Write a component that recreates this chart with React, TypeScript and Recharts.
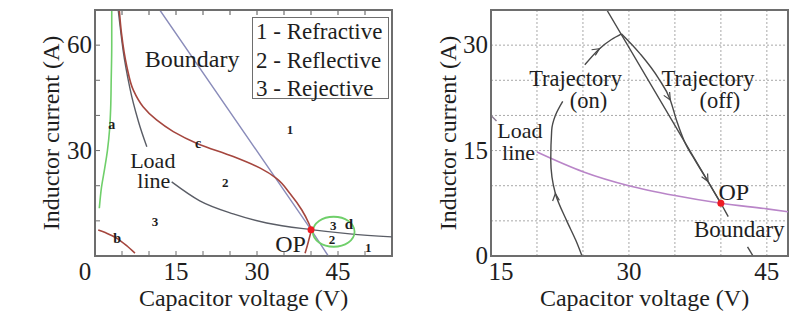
import React from "react";
import { CartesianGrid, Line, LineChart, ReferenceArea, ReferenceDot, XAxis, YAxis } from "recharts";

type Pt = { v: number; i: number };

// ---- left panel: operating regions (V 0..55, A 0..70) ----
const leftBoundary: Pt[] = [
  { v: 12, i: 70 },
  { v: 40, i: 7.5 },
  { v: 43.2, i: 0 },
];
const leftLoadUpper: Pt[] = [
  { v: 4.3, i: 70 },
  { v: 5.2, i: 58.6 },
  { v: 6.5, i: 47.5 },
  { v: 8.0, i: 38.5 },
  { v: 9.6, i: 31.1 },
];
const leftLoadLower: Pt[] = [
  { v: 14.2, i: 21.1 },
  { v: 19.4, i: 15.7 },
  { v: 25.6, i: 12.0 },
  { v: 31.8, i: 9.4 },
  { v: 40, i: 7.5 },
  { v: 47.2, i: 6.3 },
  { v: 55, i: 5.45 },
];
const curveC: Pt[] = [
  { v: 4.5, i: 70 },
  { v: 4.9, i: 63.4 },
  { v: 5.9, i: 53.9 },
  { v: 7.1, i: 47.2 },
  { v: 8.9, i: 42.5 },
  { v: 11.4, i: 38.7 },
  { v: 14.5, i: 35.4 },
  { v: 19.1, i: 31.9 },
  { v: 25.6, i: 28.3 },
  { v: 30.6, i: 25.0 },
  { v: 33.6, i: 22.1 },
  { v: 36.1, i: 17.8 },
  { v: 38.3, i: 13.1 },
  { v: 39.5, i: 9.6 },
  { v: 40, i: 7.5 },
  { v: 39.6, i: 4.6 },
  { v: 38.9, i: 0.8 },
];
const curveA: Pt[] = [
  { v: 0.8, i: 13.6 },
  { v: 1.2, i: 19.5 },
  { v: 1.8, i: 25 },
  { v: 2.3, i: 30 },
  { v: 2.7, i: 36 },
  { v: 2.9, i: 42 },
  { v: 3.0, i: 50 },
  { v: 3.1, i: 60 },
  { v: 3.1, i: 70 },
];
const curveB: Pt[] = [
  { v: 0.6, i: 7.4 },
  { v: 2.0, i: 6.6 },
  { v: 4.0, i: 5.1 },
  { v: 5.8, i: 3.0 },
  { v: 7.4, i: 0.8 },
];
const loopD: Pt[] = [
  { v: 48.5, i: 6.9 },
  { v: 47.2, i: 10.3 },
  { v: 44.2, i: 11.6 },
  { v: 41.2, i: 10.3 },
  { v: 39.9, i: 6.9 },
  { v: 41.2, i: 3.5 },
  { v: 44.2, i: 2.2 },
  { v: 47.2, i: 3.5 },
];
const regionLegend = ["1 - Refractive", "2 - Reflective", "3 - Rejective"];

// ---- right panel: trajectories (V 15..47.3, A 0..35) ----
const rightLoadStub: Pt[] = [
  { v: 15, i: 20 },
  { v: 15.6, i: 19.2 },
];
const rightLoad: Pt[] = [
  { v: 20, i: 14.8 },
  { v: 25, i: 12 },
  { v: 30, i: 10 },
  { v: 35, i: 8.6 },
  { v: 40, i: 7.5 },
  { v: 45, i: 6.7 },
  { v: 47.3, i: 6.3 },
];
const rightBoundary: Pt[] = [
  { v: 27.6, i: 35 },
  { v: 40, i: 7.5 },
  { v: 40.8, i: 5.6 },
];
const rightBoundaryTail: Pt[] = [
  { v: 42.9, i: 1.3 },
  { v: 43.5, i: 0 },
];
const trajOnLower: Pt[] = [
  { v: 24.9, i: 0 },
  { v: 24.2, i: 2.3 },
  { v: 23.2, i: 5.1 },
  { v: 22.0, i: 8.9 },
  { v: 21.5, i: 13.7 },
  { v: 21.6, i: 17.9 },
  { v: 22.0, i: 20.0 },
  { v: 22.8, i: 22.0 },
];
const trajOnUpper: Pt[] = [
  { v: 25.2, i: 27.2 },
  { v: 26.8, i: 29.5 },
  { v: 28.1, i: 30.8 },
  { v: 29.2, i: 31.6 },
];
const trajOff: Pt[] = [
  { v: 29.2, i: 31.6 },
  { v: 31.2, i: 28.8 },
  { v: 33.2, i: 25.3 },
  { v: 34.5, i: 22.2 },
  { v: 35.2, i: 19.2 },
  { v: 36.0, i: 16.4 },
  { v: 37.2, i: 13.6 },
  { v: 38.6, i: 10.6 },
  { v: 40, i: 7.5 },
];

const LEFT_X_TICKS = [0, 5, 10, 15, 20, 25, 30, 35, 40, 45, 50, 55];
const LEFT_X_LABELS = [0, 15, 30, 45];
const LEFT_Y_TICKS = [0, 10, 20, 30, 40, 50, 60, 70];
const LEFT_Y_LABELS = [30, 60];
const RIGHT_X_TICKS = [15, 20, 25, 30, 35, 40, 45];
const RIGHT_X_LABELS = [15, 30, 45];
const RIGHT_Y_TICKS = [0, 5, 10, 15, 20, 25, 30, 35];
const RIGHT_Y_LABELS = [0, 15, 30];

const SERIF = "Liberation Serif, DejaVu Serif, Times New Roman, serif";
const INK = "#1e1e1e";
const FRAME = "#6e6e6e";
const BOUNDARY_BLUE = "#8a8cba";
const LOAD_GRAY = "#5a5d66";
const RED_CURVE = "#a5463e";
const GREEN = "#6fcf6a";
const PURPLE = "#b985c8";
const DARK = "#4a4a4a";
const OP_RED = "#ee1c24";

// inward tick marks, text outside; x/y arrive on the axis line (tickSize 0)
function makeTick(side: string, labels: number[], inward: boolean, shift: Record<number, number> = {}) {
  return function Tick(p: any) {
    const { x, y, payload } = p;
    const v = payload.value;
    const L = 5;
    let mark = null;
    if (inward) {
      if (side === "bottom") mark = <line x1={x} y1={y} x2={x} y2={y - L} stroke={FRAME} />;
      if (side === "left") mark = <line x1={x} y1={y} x2={x + L} y2={y} stroke={FRAME} />;
      if (side === "right") mark = <line x1={x} y1={y} x2={x - L} y2={y} stroke={FRAME} />;
    }
    let text = null;
    if (labels.includes(v)) {
      const dx = shift[v] || 0;
      if (side === "bottom")
        text = (
          <text x={x + dx} y={y + 24} textAnchor="middle" fontSize={25} fontFamily={SERIF} fill={INK}>
            {v}
          </text>
        );
      if (side === "left")
        text = (
          <text x={x - 3 + dx} y={y + 8} textAnchor="end" fontSize={25} fontFamily={SERIF} fill={INK}>
            {v}
          </text>
        );
    }
    return (
      <g>
        {mark}
        {text}
      </g>
    );
  };
}

function note(key: string, v: number, i: number, text: string, size = 23, bold = false) {
  return (
    <ReferenceDot
      key={key}
      x={v}
      y={i}
      r={0}
      ifOverflow="visible"
      shape={(p: any) => (
        <text
          x={p.cx}
          y={p.cy}
          textAnchor="middle"
          fontSize={size}
          fontWeight={bold ? "bold" : "normal"}
          fontFamily={SERIF}
          fill={INK}
        >
          {text}
        </text>
      )}
    />
  );
}

// tick mark hanging down from the top frame, placed through the axis scale
function topTick(key: string, v: number, top: number) {
  return (
    <ReferenceDot
      key={key}
      x={v}
      y={top}
      r={0}
      ifOverflow="visible"
      shape={(p: any) => <line x1={p.cx} y1={p.cy} x2={p.cx} y2={p.cy + 5} stroke={FRAME} strokeWidth={1.2} />}
    />
  );
}

function arrow(key: string, v: number, i: number, deg: number) {
  return (
    <ReferenceDot
      key={key}
      x={v}
      y={i}
      r={0}
      ifOverflow="visible"
      shape={(p: any) => {
        const a = (deg * Math.PI) / 180;
        const w = (25 * Math.PI) / 180;
        const L = 8;
        const x1 = p.cx - L * Math.cos(a - w);
        const y1 = p.cy - L * Math.sin(a - w);
        const x2 = p.cx - L * Math.cos(a + w);
        const y2 = p.cy - L * Math.sin(a + w);
        return <path d={`M${x1},${y1}L${p.cx},${p.cy}L${x2},${y2}`} fill="none" stroke={DARK} strokeWidth={1.2} />;
      }}
    />
  );
}

function axisTitleX(text: string, dx = 0) {
  return (p: any) => {
    const vb = p.viewBox;
    return (
      <text x={vb.x + vb.width / 2 + dx} y={vb.y + 50} textAnchor="middle" fontSize={24} fontFamily={SERIF} fill={INK}>
        {text}
      </text>
    );
  };
}

function axisTitleY(text: string, bx: number) {
  return (p: any) => {
    const vb = p.viewBox;
    const cy = vb.y + vb.height / 2;
    return (
      <text
        x={bx}
        y={cy}
        transform={`rotate(-90, ${bx}, ${cy})`}
        textAnchor="middle"
        fontSize={24}
        fontFamily={SERIF}
        fill={INK}
      >
        {text}
      </text>
    );
  };
}

const line = (key: string, data: Pt[], color: string, type: any, w = 1.4) => (
  <Line
    key={key}
    data={data}
    dataKey="i"
    type={type}
    stroke={color}
    strokeWidth={w}
    dot={false}
    activeDot={false}
    isAnimationActive={false}
  />
);

function LeftPanel() {
  return (
    <LineChart width={400} height={312} margin={{ top: 10, right: 8, bottom: 0, left: 0 }}>
      <ReferenceArea x1={0} x2={55} y1={0} y2={70} fill="none" stroke={FRAME} strokeWidth={2} ifOverflow="visible" />
      <XAxis
        dataKey="v"
        type="number"
        domain={[0, 55]}
        ticks={LEFT_X_TICKS}
        interval={0}
        allowDataOverflow
        height={56}
        tickSize={0}
        tickMargin={0}
        tickLine={false}
        axisLine={{ stroke: FRAME, strokeWidth: 1.5 }}
        tick={makeTick("bottom", LEFT_X_LABELS, true, { 0: -10 })}
        label={{ content: axisTitleX("Capacitor voltage (V)") }}
      />
      <YAxis
        type="number"
        domain={[0, 70]}
        ticks={LEFT_Y_TICKS}
        interval={0}
        allowDataOverflow
        width={95}
        tickSize={0}
        tickMargin={0}
        tickLine={false}
        axisLine={{ stroke: FRAME, strokeWidth: 1.5 }}
        tick={makeTick("left", LEFT_Y_LABELS, true)}
        label={{ content: axisTitleY("Inductor current (A)", 59) }}
      />
      <YAxis
        yAxisId="r"
        orientation="right"
        type="number"
        domain={[0, 70]}
        ticks={LEFT_Y_TICKS}
        interval={0}
        width={0}
        tickSize={0}
        tickMargin={0}
        tickLine={false}
        axisLine={{ stroke: FRAME, strokeWidth: 1.5 }}
        tick={makeTick("right", [], true)}
      />
      {LEFT_X_TICKS.slice(1, -1).map((t) => topTick(`tt${t}`, t, 70))}
      {line("bnd", leftBoundary, BOUNDARY_BLUE, "linear")}
      {line("loadU", leftLoadUpper, LOAD_GRAY, "monotoneX")}
      {line("loadL", leftLoadLower, LOAD_GRAY, "monotoneX")}
      {line("c", curveC, RED_CURVE, "monotoneY", 1.6)}
      {line("a", curveA, GREEN, "monotoneY", 1.6)}
      {line("b", curveB, RED_CURVE, "monotoneX", 1.6)}
      {line("d", loopD, GREEN, "basisClosed", 1.8)}
      <ReferenceDot x={40} y={7.5} r={3.5} fill={OP_RED} stroke="none" isFront />
      {note("t-bnd", 18, 53.9, "Boundary", 24)}
      {note("t-load", 10.7, 25, "Load", 22)}
      {note("t-line", 10.9, 19.3, "line", 22)}
      {note("t-op", 36.2, 1.2, "OP", 24)}
      {note("n1", 36.1, 34.6, "1", 13, true)}
      {note("n2", 24.1, 19.5, "2", 13, true)}
      {note("n3", 11.1, 8.4, "3", 13, true)}
      {note("nc", 19.1, 30.6, "c", 14, true)}
      {note("na", 3.1, 36, "a", 14, true)}
      {note("nb", 4.1, 3.7, "b", 14, true)}
      {note("n3d", 44.1, 7.3, "3", 13, true)}
      {note("nd", 47, 7.8, "d", 15, true)}
      {note("n2d", 43.9, 3.3, "2", 13, true)}
      {note("n1r", 50.6, 1.0, "1", 13, true)}
    </LineChart>
  );
}

function RightPanel() {
  return (
    <LineChart width={401} height={312} margin={{ top: 10, right: 13, bottom: 0, left: 0 }}>
      <CartesianGrid stroke="#a8a8a8" strokeDasharray="2 2" />
      <ReferenceArea x1={15} x2={47.3} y1={0} y2={35} fill="none" stroke={FRAME} strokeWidth={2} ifOverflow="visible" />
      <XAxis
        dataKey="v"
        type="number"
        domain={[15, 47.3]}
        ticks={RIGHT_X_TICKS}
        interval={0}
        allowDataOverflow
        height={56}
        tickSize={0}
        tickMargin={0}
        tickLine={false}
        axisLine={{ stroke: FRAME, strokeWidth: 1.5 }}
        tick={makeTick("bottom", RIGHT_X_LABELS, false, { 15: 10 })}
        label={{ content: axisTitleX("Capacitor voltage (V)", 5) }}
      />
      <YAxis
        type="number"
        domain={[0, 35]}
        ticks={RIGHT_Y_TICKS}
        interval={0}
        allowDataOverflow
        width={91}
        tickSize={0}
        tickMargin={0}
        tickLine={false}
        axisLine={{ stroke: FRAME, strokeWidth: 1.5 }}
        tick={makeTick("left", RIGHT_Y_LABELS, false)}
        label={{ content: axisTitleY("Inductor current (A)", 56) }}
      />
      <YAxis
        yAxisId="r"
        orientation="right"
        type="number"
        domain={[0, 35]}
        width={0}
        tick={false}
        tickLine={false}
        axisLine={{ stroke: FRAME, strokeWidth: 1.5 }}
      />
      {line("stub", rightLoadStub, "#8a7a92", "linear")}
      {line("load", rightLoad, PURPLE, "monotoneX", 1.6)}
      {line("bnd", rightBoundary, DARK, "linear")}
      {line("bnd2", rightBoundaryTail, DARK, "linear")}
      {line("onL", trajOnLower, DARK, "monotoneY")}
      {line("onU", trajOnUpper, DARK, "monotoneX")}
      {line("off", trajOff, DARK, "monotoneX")}
      {arrow("a1", 22.0, 8.9, -95)}
      {arrow("a2", 26.8, 29.5, -33)}
      {arrow("a3", 34.5, 22.2, 60)}
      {arrow("a4", 38.6, 10.6, 62)}
      <ReferenceDot x={40} y={7.5} r={3.5} fill={OP_RED} stroke="none" isFront />
      {note("t-load", 18.15, 16.8, "Load", 22)}
      {note("t-line", 18.0, 13.7, "line", 22)}
      {note("t-on1", 24.2, 24.2, "Trajectory", 22.5)}
      {note("t-on2", 25.6, 21.0, "(on)", 22.5)}
      {note("t-off1", 38.6, 24.2, "Trajectory", 22.5)}
      {note("t-off2", 39.9, 21.0, "(off)", 22.5)}
      {note("t-op", 41.4, 8.0, "OP", 24)}
      {note("t-bnd", 42.0, 2.75, "Boundary")}
    </LineChart>
  );
}

// top edge of each plot box, drawn over the charts (boxes span y 10..256)
const topEdge = (left: number, width: number): React.CSSProperties => ({
  position: "absolute",
  left,
  top: 9,
  width,
  height: 0,
  borderTop: `2px solid ${FRAME}`,
  pointerEvents: "none",
});

export default function App() {
  return (
    <div style={{ position: "absolute", left: 0, top: 0, width: 801, height: 312, background: "#fff" }}>
      <div style={{ position: "absolute", left: 0, top: 0 }}>
        <LeftPanel />
      </div>
      <div
        style={{
          position: "absolute",
          left: 252,
          top: 17,
          width: 132,
          height: 80,
          border: `1.5px solid ${FRAME}`,
          background: "#fff",
          fontFamily: SERIF,
          fontSize: 23,
          lineHeight: "28.5px",
          color: INK,
          paddingLeft: 3,
          whiteSpace: "nowrap",
        }}
      >
        {regionLegend.map((t) => (
          <div key={t}>{t}</div>
        ))}
      </div>
      <div style={{ position: "absolute", left: 400, top: 0 }}>
        <RightPanel />
      </div>
      <div style={topEdge(95, 297)} />
      <div style={topEdge(491, 297)} />
    </div>
  );
}
